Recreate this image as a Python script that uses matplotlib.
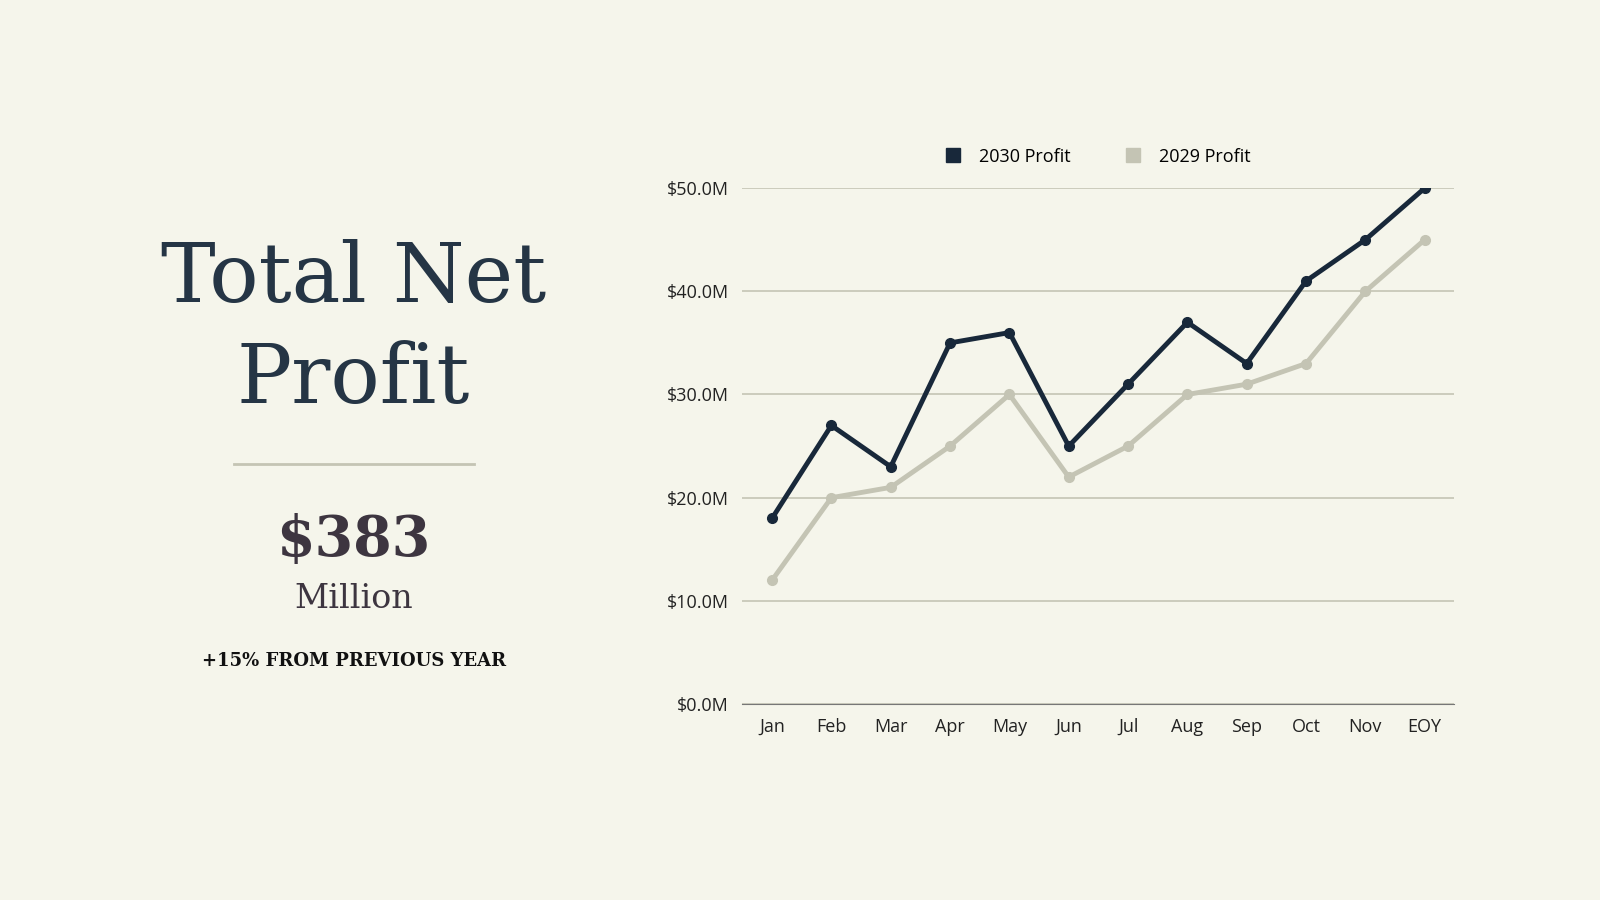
import matplotlib
matplotlib.use("Agg")
import matplotlib.pyplot as plt
from matplotlib.lines import Line2D

months = ["Jan","Feb","Mar","Apr","May","Jun","Jul","Aug","Sep","Oct","Nov","EOY"]
profit_2030 = [18,27,23,35,36,25,31,37,33,41,45,50]
profit_2029 = [12,20,21,25,30,22,25,30,31,33,40,45]
yticks = [0,10,20,30,40,50]

bg = "#F5F5EB"
dark = "#18283A"
light = "#C4C4B4"

fig = plt.figure(figsize=(16,9), dpi=100, facecolor=bg)
ax = fig.add_axes([0.464, 0.2177, 0.445, 0.5733], facecolor=bg)
x = range(len(months))
ax.plot(x, profit_2029, color=light, lw=3.5, marker="o", ms=7, label="2029 Profit", zorder=2)
ax.plot(x, profit_2030, color=dark, lw=3.5, marker="o", ms=7, label="2030 Profit", zorder=3)
ax.set_ylim(0,50)
ax.set_xlim(-0.5, 11.5)
ax.set_yticks(yticks)
ax.set_yticklabels([f"${v:.1f}M" for v in yticks], fontsize=13, family="Open Sans", color="#222")
ax.set_xticks(list(x))
ax.set_xticklabels(months, fontsize=13, family="Open Sans", color="#222")
ax.grid(axis="y", color="#C4C4B4", lw=1.2)
ax.set_axisbelow(True)
for s in ["top","right","left"]:
    ax.spines[s].set_visible(False)
ax.spines["bottom"].set_color("#777")
ax.tick_params(length=0, pad=10)
handles = [Line2D([],[],marker="s",ls="",color=dark,ms=10), Line2D([],[],marker="s",ls="",color=light,ms=10)]
fig.legend(handles, ["2030 Profit","2029 Profit"], loc="center", bbox_to_anchor=(0.683,0.826), ncol=2,
           frameon=False, prop={"family":"Open Sans","size":13}, handletextpad=0.4, columnspacing=2.5)

fig.text(0.221, 0.69, "Total Net", ha="center", va="center", fontsize=59, family="DejaVu Serif", color="#253545")
fig.text(0.221, 0.578, "Profit", ha="center", va="center", fontsize=59, family="DejaVu Serif", color="#253545")
fig.add_artist(Line2D([0.146,0.296],[0.484,0.484], color="#C4C4B4", lw=2))
fig.text(0.221, 0.40, "$383", ha="center", va="center", fontsize=40, family="DejaVu Serif", weight="bold", color="#3D3540")
fig.text(0.221, 0.335, "Million", ha="center", va="center", fontsize=24, family="DejaVu Serif", color="#3D3540")
fig.text(0.221, 0.266, "+15% FROM PREVIOUS YEAR", ha="center", va="center", fontsize=13, family="DejaVu Serif", weight="bold", color="#111")
fig.savefig("out.png", facecolor=bg)
